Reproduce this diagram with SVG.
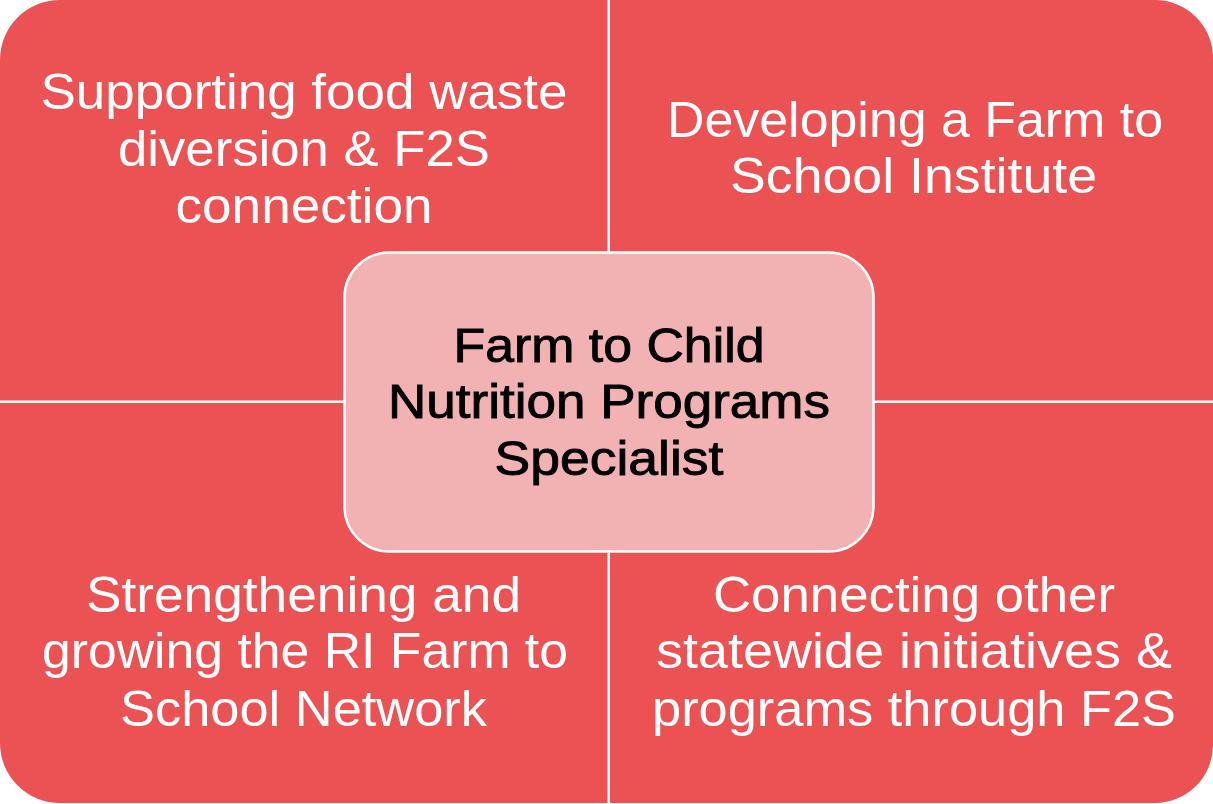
<svg xmlns="http://www.w3.org/2000/svg" width="1213" height="804" viewBox="0 0 1213 804">
  <style>
    .quad { fill: #EB5254; }
    .center { fill: #F2B1B2; stroke: #FFFFFF; stroke-width: 2.5; }
    .qt { font-family: "Liberation Sans", Arial, sans-serif; font-size: 50px; fill: #FFFFFF; text-anchor: middle; }
    .ct { font-family: "Liberation Sans", Arial, sans-serif; font-size: 49px; fill: #000000; stroke: #000000; stroke-width: 0.9px; text-anchor: middle; }
  </style>
  <rect x="0" y="0" width="1213" height="804" fill="#FFFFFF"/>
  <g id="node-top-left">
    <path class="quad" d="M0,60 A60,60 0 0 1 60,0 H607.5 V400.5 H0 Z"/>
    <text class="qt" x="304" y="109" textLength="527" lengthAdjust="spacingAndGlyphs">Supporting food waste</text>
    <text class="qt" x="304" y="166" textLength="372" lengthAdjust="spacingAndGlyphs">diversion &amp; F2S</text>
    <text class="qt" x="304" y="223" textLength="257" lengthAdjust="spacingAndGlyphs">connection</text>
  </g>
  <g id="node-top-right">
    <path class="quad" d="M610,0 H1155 A58,58 0 0 1 1213,58 V400.5 H610 Z"/>
    <text class="qt" x="915" y="137" textLength="496" lengthAdjust="spacingAndGlyphs">Developing a Farm to</text>
    <text class="qt" x="913.5" y="193" textLength="367" lengthAdjust="spacingAndGlyphs">School Institute</text>
  </g>
  <g id="node-bottom-left">
    <path class="quad" d="M0,403 H607.5 V803 H60 A60,60 0 0 1 0,743 Z"/>
    <text class="qt" x="303.5" y="612" textLength="435" lengthAdjust="spacingAndGlyphs">Strengthening and</text>
    <text class="qt" x="305" y="668" textLength="526" lengthAdjust="spacingAndGlyphs">growing the RI Farm to</text>
    <text class="qt" x="303.5" y="726" textLength="367" lengthAdjust="spacingAndGlyphs">School Network</text>
  </g>
  <g id="node-bottom-right">
    <path class="quad" d="M610,403 H1213 V745 A58,58 0 0 1 1155,803 H610 Z"/>
    <text class="qt" x="914" y="612" textLength="402" lengthAdjust="spacingAndGlyphs">Connecting other</text>
    <text class="qt" x="914" y="668" textLength="516" lengthAdjust="spacingAndGlyphs">statewide initiatives &amp;</text>
    <text class="qt" x="914" y="726" textLength="524" lengthAdjust="spacingAndGlyphs">programs through F2S</text>
  </g>
  <g id="node-center">
    <rect class="center" x="344.5" y="252.5" width="529" height="299" rx="45" ry="45"/>
    <text class="ct" x="609" y="362" textLength="311" lengthAdjust="spacingAndGlyphs">Farm to Child</text>
    <text class="ct" x="609" y="418" textLength="442" lengthAdjust="spacingAndGlyphs">Nutrition Programs</text>
    <text class="ct" x="609" y="475" textLength="229" lengthAdjust="spacingAndGlyphs">Specialist</text>
  </g>
  <g id="connectors"></g>
</svg>
